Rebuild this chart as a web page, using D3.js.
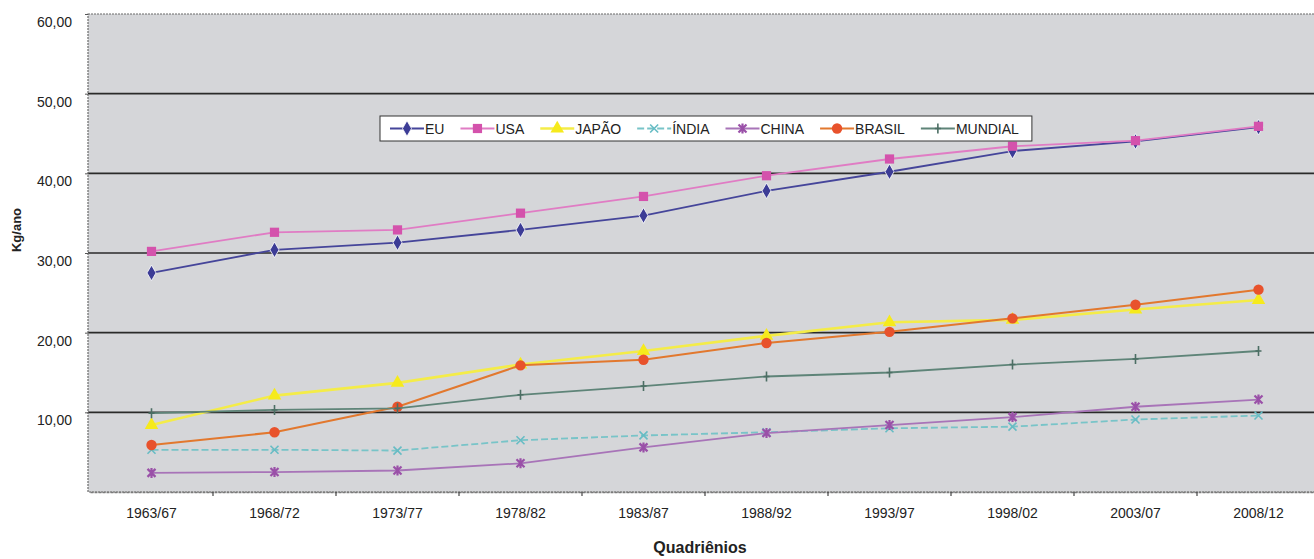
<!DOCTYPE html>
<html>
<head>
<meta charset="utf-8">
<script src="https://cdn.jsdelivr.net/npm/d3@7"></script>
<style>
  html, body { margin: 0; padding: 0; background: #ffffff; }
  svg { display: block; font-family: "Liberation Sans", Arial, sans-serif; }
</style>
</head>
<body>
<svg id="chart" width="1314" height="559"></svg>
<script>
// ---- data ----
const categories = ["1963/67","1968/72","1973/77","1978/82","1983/87","1988/92","1993/97","1998/02","2003/07","2008/12"];
const seriesNames = ["EU","USA","JAPÃO","ÍNDIA","CHINA","BRASIL","MUNDIAL"];
const euValues      = [27.5, 30.4, 31.3, 32.9, 34.7, 37.8, 40.2, 42.8, 44.0, 45.8];
const usaValues     = [30.2, 32.6, 32.9, 35.0, 37.1, 39.7, 41.8, 43.4, 44.1, 45.9];
const japaoValues   = [8.4, 12.1, 13.7, 16.0, 17.7, 19.6, 21.3, 21.6, 22.9, 24.1];
const indiaValues   = [5.3, 5.3, 5.2, 6.5, 7.1, 7.5, 8.0, 8.2, 9.1, 9.6];
const chinaValues   = [2.4, 2.5, 2.7, 3.6, 5.6, 7.4, 8.4, 9.4, 10.7, 11.6];
const brasilValues  = [5.9, 7.5, 10.7, 15.9, 16.6, 18.7, 20.1, 21.8, 23.5, 25.4];
const mundialValues = [9.9, 10.3, 10.5, 12.2, 13.3, 14.5, 15.0, 16.0, 16.7, 17.7];
const yTicks = [10, 20, 30, 40, 50, 60];
const yTitle = "Kg/ano";
const xTitle = "Quadriênios";

// ---- styling (kept separate from data) ----
const styles = {
  "EU":      {line: "#45459a", fill: "#3c3c96", marker: "diamond", width: 1.8},
  "USA":     {line: "#e07cc4", fill: "#d452ac", marker: "square",  width: 1.8},
  "JAPÃO":   {line: "#f4ec48", fill: "#f6ea1c", marker: "triangle",width: 2.6},
  "ÍNDIA":   {line: "#78c4c8", fill: "#66bcc4", marker: "x",       width: 1.8, dash: "7,3"},
  "CHINA":   {line: "#a874b8", fill: "#9a50a8", marker: "star",    width: 1.8},
  "BRASIL":  {line: "#e2782e", fill: "#e8522c", marker: "circle",  width: 2.0},
  "MUNDIAL": {line: "#5e8478", fill: "#4c6e64", marker: "plus",    width: 1.8}
};
const valuesList = [euValues, usaValues, japaoValues, indiaValues, chinaValues, brasilValues, mundialValues];
const series = seriesNames.map((n, i) => ({name: n, values: valuesList[i]}));

const svg = d3.select("#chart");
const plot = {left: 88, right: 1322, top: 14, bottom: 492};

const x = d3.scaleBand().domain(categories).range([90, 1320]).padding(0);
const y = d3.scaleLinear().domain([0, 60]).range([plot.bottom, plot.top]);

// plot background
svg.append("rect")
  .attr("x", plot.left).attr("y", plot.top)
  .attr("width", plot.right - plot.left).attr("height", plot.bottom - plot.top)
  .attr("fill", "#d5d6d9");

// gridlines
svg.append("g").selectAll("line").data(yTicks.filter(t => t < 60)).join("line")
  .attr("x1", plot.left).attr("x2", plot.right)
  .attr("y1", d => y(d)).attr("y2", d => y(d))
  .attr("stroke", "#2a2a2a").attr("stroke-width", 1.6);

// plot border (dotted)
svg.append("rect")
  .attr("x", plot.left).attr("y", plot.top)
  .attr("width", plot.right - plot.left).attr("height", plot.bottom - plot.top)
  .attr("fill", "none").attr("stroke", "#6b6b6b").attr("stroke-width", 1.2)
  .attr("stroke-dasharray", "2,1");

// y axis
const yAxis = svg.append("g").attr("transform", `translate(${plot.left},0)`)
  .call(d3.axisLeft(y).tickValues(yTicks).tickSize(3).tickPadding(13)
    .tickFormat(d => d3.format(".2f")(d).replace(".", ",")));
yAxis.select(".domain").remove();
yAxis.selectAll(".tick line").attr("stroke", "#555");
yAxis.selectAll(".tick text").attr("font-size", 14).attr("fill", "#222").attr("dy", "0.9em");

// x axis
const xAxis = svg.append("g").attr("transform", `translate(0,${plot.bottom})`)
  .call(d3.axisBottom(x).tickSize(0).tickPadding(16));
xAxis.select(".domain").attr("stroke", "#7a7a7a").attr("stroke-width", 1.5).attr("stroke-dasharray", "3,1");
xAxis.selectAll(".tick text").attr("font-size", 14).attr("fill", "#222");
// tick marks at category boundaries
svg.append("g").selectAll("line").data(categories.slice(1)).join("line")
  .attr("x1", d => x(d)).attr("x2", d => x(d))
  .attr("y1", plot.bottom).attr("y2", plot.bottom + 4)
  .attr("stroke", "#444").attr("stroke-width", 1.2);

// axis titles
svg.append("text").attr("transform", "translate(21,230) rotate(-90)")
  .attr("text-anchor", "middle").attr("font-size", 13).attr("font-weight", "bold")
  .attr("fill", "#222").text(yTitle);
svg.append("text").attr("x", 700).attr("y", 553)
  .attr("text-anchor", "middle").attr("font-size", 16).attr("font-weight", "bold")
  .attr("fill", "#222").text(xTitle);

// marker drawing
function drawMarker(g, type, st) {
  if (type === "diamond") {
    g.append("path").attr("d", d3.symbol(d3.symbolDiamond, 70)()).attr("fill", st.fill)
      .attr("stroke", "#ffffff").attr("stroke-width", 0.8);
  } else if (type === "square") {
    g.append("path").attr("d", d3.symbol(d3.symbolSquare, 85)()).attr("fill", st.fill);
  } else if (type === "triangle") {
    g.append("path").attr("d", d3.symbol(d3.symbolTriangle, 80)()).attr("fill", st.fill);
  } else if (type === "circle") {
    g.append("circle").attr("r", 5.2).attr("fill", st.fill);
  } else if (type === "x") {
    g.append("path").attr("d", "M-4,-4L4,4M-4,4L4,-4").attr("stroke", st.fill).attr("stroke-width", 1.6);
  } else if (type === "star") {
    g.append("path").attr("d", "M-4,-4L4,4M-4,4L4,-4M0,-5L0,5").attr("stroke", st.fill).attr("stroke-width", 2.2);
  } else if (type === "plus") {
    g.append("path").attr("d", "M0,-5L0,5M-3,0L3,0").attr("stroke", st.fill).attr("stroke-width", 1.6);
  }
}

const line = d3.line().x((d, i) => x(categories[i]) + x.bandwidth() / 2).y(d => y(d));

const seriesG = svg.append("g");
series.forEach(s => {
  const st = styles[s.name];
  const g = seriesG.append("g");
  g.append("path").datum(s.values).attr("d", line)
    .attr("fill", "none").attr("stroke", st.line).attr("stroke-width", st.width)
    .attr("stroke-dasharray", st.dash || null);
  s.values.forEach((v, i) => {
    const mg = g.append("g").attr("transform", `translate(${x(categories[i]) + x.bandwidth() / 2},${y(v)})`);
    drawMarker(mg, st.marker, st);
  });
});

// legend
const legend = svg.append("g");
const legendBox = legend.append("rect")
  .attr("x", 380).attr("y", 116).attr("height", 25)
  .attr("fill", "#ffffff").attr("stroke", "#333").attr("stroke-width", 1);
let lx = 390;
series.forEach(s => {
  const st = styles[s.name];
  const item = legend.append("g").attr("transform", `translate(${lx},128.5)`);
  item.append("line").attr("x1", 0).attr("x2", 34).attr("y1", 0).attr("y2", 0)
    .attr("stroke", st.line).attr("stroke-width", st.width).attr("stroke-dasharray", st.dash || null);
  const mg = item.append("g").attr("transform", "translate(17,0)");
  drawMarker(mg, st.marker, st);
  const t = item.append("text").attr("x", 35).attr("y", 5).attr("font-size", 14)
    .attr("fill", "#222").text(s.name);
  lx += 35 + t.node().getComputedTextLength() + 16;
});
legendBox.attr("width", lx - 380 - 3);
</script>
</body>
</html>
